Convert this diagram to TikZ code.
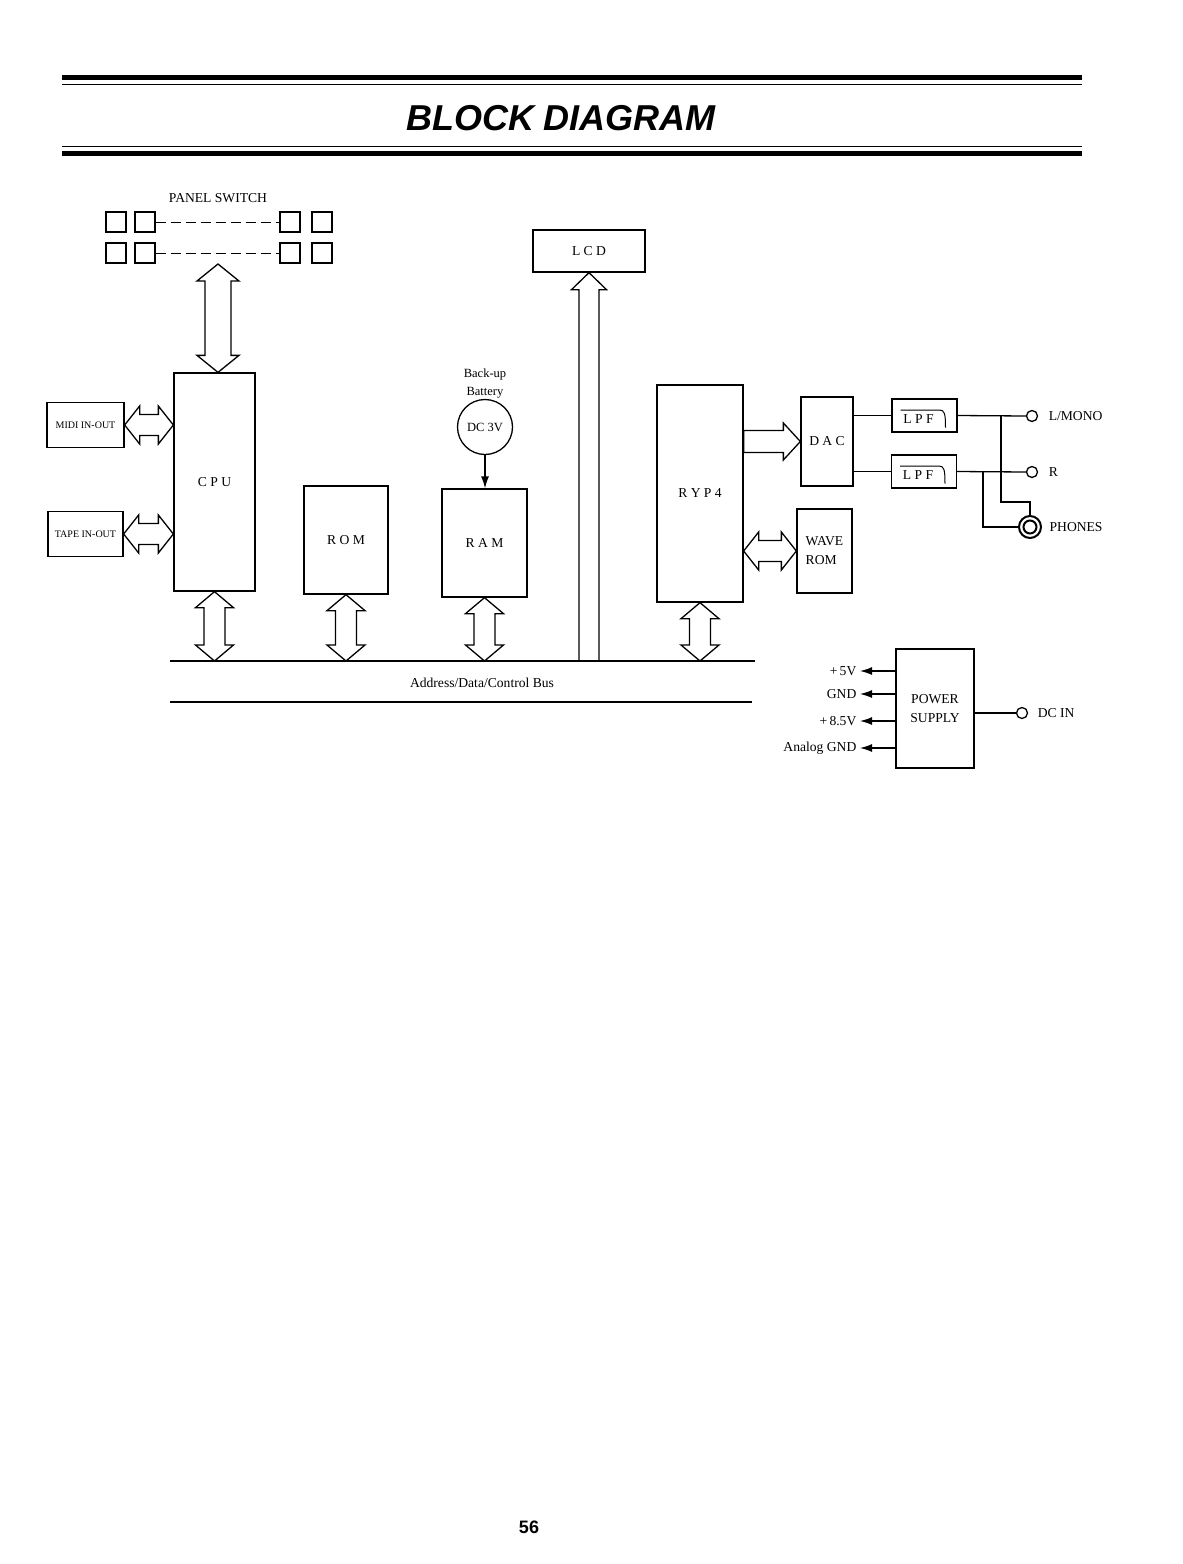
\documentclass[tikz,border=0pt]{standalone}
\usepackage{fontspec}
\setmainfont{Liberation Serif}
\newfontfamily\headfont{Liberation Sans}
\usetikzlibrary{calc,arrows.meta}

\begin{document}
\begin{tikzpicture}[x=1pt, y=-1pt, line width=1.3pt, >={Latex[length=12pt,width=8pt]},
		every node/.style={font=\fontsize{13.6}{15}\selectfont},
		blk/.style={draw, inner sep=0pt},
		sw/.style={draw, minimum size=20pt, inner sep=0pt},
		jack/.style={draw, circle, minimum size=11pt, inner sep=0pt},
		lpf/.style={blk, minimum width=65pt, minimum height=33pt, text height=16pt, text depth=0pt},
		fatv/.style n args={3}{to path={let \p1=(\tikztostart), \p2=(\tikztotarget) in
				(\x1,\y1) -- (\x1+#1,\y1-#3) -- (\x1+#2,\y1-#3) -- (\x1+#2,\y2+#3) -- (\x1+#1,\y2+#3)
				-- (\x1,\y2) -- (\x1-#1,\y2+#3) -- (\x1-#2,\y2+#3) -- (\x1-#2,\y1-#3) -- (\x1-#1,\y1-#3) -- cycle}},
		fath/.style n args={3}{to path={let \p1=(\tikztostart), \p2=(\tikztotarget) in
				(\x1,\y1) -- (\x1+#3,\y1+#1) -- (\x1+#3,\y1+#2) -- (\x2-#3,\y1+#2) -- (\x2-#3,\y1+#1)
				-- (\x2,\y1) -- (\x2-#3,\y1-#1) -- (\x2-#3,\y1-#2) -- (\x1+#3,\y1-#2) -- (\x1+#3,\y1-#1) -- cycle}},
		fatup/.style n args={3}{to path={let \p1=(\tikztostart), \p2=(\tikztotarget) in
				(\x2-#2,\y1) -- (\x2-#2,\y2-#3) -- (\x2-#1,\y2-#3) -- (\x2,\y2)
				-- (\x2+#1,\y2-#3) -- (\x2+#2,\y2-#3) -- (\x2+#2,\y1) -- cycle}},
		fatright/.style n args={3}{to path={let \p1=(\tikztostart), \p2=(\tikztotarget) in
				(\x1,\y1+#2) -- (\x2-#3,\y1+#2) -- (\x2-#3,\y1+#1) -- (\x2,\y1)
				-- (\x2-#3,\y1-#1) -- (\x2-#3,\y1-#2) -- (\x1,\y1-#2) -- cycle}},
		bigarrow/.style={fatv={21pt}{13pt}{17pt}},
		busarrow/.style={fatv={19pt}{10.5pt}{16pt}},
		sidearrow/.style={fath={19pt}{10.5pt}{15pt}}]
		\path[use as bounding box, fill=white] (0,0) rectangle (1183,1564);

		% heading
		\draw[line width=4.5pt] (62,77.5) -- (1082,77.5);
		\draw (62,84.5) -- (1082,84.5);
		\draw (62,146.5) -- (1082,146.5);
		\draw[line width=4.5pt] (62,153.5) -- (1082,153.5);
		\node[font=\headfont\bfseries\itshape\fontsize{36}{40}\selectfont] (title) at (561,118) {BLOCK DIAGRAM};

		% panel switches
		\node (pswlbl) at (218,198) {PANEL SWITCH};
		\foreach \r/\y in {1/222, 2/253} {
				\foreach \c/\x in {a/116, b/145, c/290, d/322}
					\node[sw] (sw\r\c) at (\x,\y) {};
				\draw[line width=1pt, dash pattern=on 10pt off 5pt] (sw\r b) -- (sw\r c);
			}
		\coordinate (panel) at (218,264);

		% blocks
		\node[blk, minimum width=81pt, minimum height=218pt] (cpu) at (214.5,482) {C P U};
		\node[blk, minimum width=77pt, minimum height=45pt, font=\fontsize{10}{12}\selectfont] (midi) at (85.5,425) {MIDI IN-OUT};
		\node[blk, minimum width=75pt, minimum height=45pt, font=\fontsize{10}{12}\selectfont] (tape) at (85.5,534) {TAPE IN-OUT};
		\node[blk, minimum width=84pt, minimum height=108pt] (rom) at (346,540) {R O M};
		\node[blk, minimum width=85pt, minimum height=108pt] (ram) at (484.5,543) {R A M};
		\node[draw, circle, minimum size=55pt, inner sep=0pt, font=\fontsize{12.5}{14}\selectfont] (bat) at (485,427) {DC 3V};
		\node[align=center, font=\fontsize{12.5}{18}\selectfont] (batlbl) at (485,384) {Back-up\\Battery};
		\node[blk, minimum width=112pt, minimum height=42pt] (lcd) at (589,251) {L C D};
		\node[blk, minimum width=86pt, minimum height=217pt] (ryp) at (700,493.5) {R Y P 4};
		\node[blk, minimum width=52pt, minimum height=89pt] (dac) at (827,441.5) {D A C};
		\node[lpf] (lpfa) at (924.5,415.5) {L P F\kern12pt};
		\node[lpf] (lpfb) at (924,471.5) {L P F\kern12pt};
		\node[blk, minimum width=55pt, minimum height=84pt, align=left, font=\fontsize{13.6}{19}\selectfont] (wave) at (824.5,551) {WAVE\\ROM};
		\node[blk, minimum width=78pt, minimum height=119pt, align=center, font=\fontsize{13.6}{19}\selectfont] (psu) at (935,708.5) {POWER\\SUPPLY};

		% filter curves
		\foreach \f in {lpfa, lpfb}
			\draw[line width=1pt] ($(\f)+(-24,-5.5)$) -- ($(\f)+(15,-5.5)$)
				.. controls ($(\f)+(20,-5.5)$) and ($(\f)+(21,-2)$) .. ($(\f)+(21,12)$);

		% bus
		\coordinate (busL) at (170,661);
		\coordinate (busR) at (755,661);
		\draw (busL) -- (busR);
		\draw (170,702) -- (752,702);
		\node (buslbl) at (482,683) {Address/Data/Control Bus};

		% fat arrows
		\draw (panel) to[bigarrow] (panel |- cpu.north);
		\draw (midi.east) to[sidearrow] (midi.east -| cpu.west);
		\draw (tape.east) to[sidearrow] (tape.east -| cpu.west);
		\draw (ryp.east |- wave.west) to[sidearrow] (wave.west);
		\draw (ryp.east |- dac.west) to[fatright={18.5pt}{11pt}{17pt}] (dac.west);
		\draw (lcd.south |- busL) to[fatup={17.5pt}{10pt}{17pt}] (lcd.south);
		\foreach \b in {cpu, rom, ram, ryp}
			\draw (\b.south) to[busarrow] (\b.south |- busL);

		% battery
		\draw[->] (bat.south) -- (bat.south |- ram.north);

		% audio outputs
		\node[jack, label={[inner sep=0pt, label distance=10pt]right:L/MONO}] (lmono) at (1032,416) {};
		\node[jack, label={[inner sep=0pt, label distance=10pt]right:R}] (rjack) at (1032,472) {};
		\node[jack, minimum size=22pt, line width=2pt, label={[inner sep=0pt, label distance=7pt]right:PHONES}] (phones) at (1030,527) {};
		\draw[line width=2pt] (phones) circle (6.5);
		\draw (dac.east |- lpfa.west) -- (lpfa.west);
		\draw (dac.east |- lpfb.west) -- (lpfb.west);
		\draw (lpfa.east) -- (lmono.west);
		\draw (lpfb.east) -- (rjack.west);
		\coordinate (tapL) at (1001,416);
		\coordinate (tapR) at (983,472);
		\draw (tapL) -- ++(0,86) -| (phones.north);
		\draw (tapR) |- (phones.west);

		% power
		\foreach \v/\y [count=\i] in {+\,5V/671, GND/694, +\,8.5V/721, Analog GND/748} {
				\node[anchor=east, inner sep=3pt] (pw\i) at (860,\y) {\v};
				\draw[->] (psu.west |- pw\i) -- (pw\i.east);
			}
		\node[jack, label={[inner sep=0pt, label distance=9pt]right:DC IN}] (dcin) at (1022,713) {};
		\draw (psu.east |- dcin) -- (dcin.west);

		\node[font=\headfont\bfseries\fontsize{18}{20}\selectfont] (pageno) at (529,1527) {56};
	\end{tikzpicture}
\end{document}
